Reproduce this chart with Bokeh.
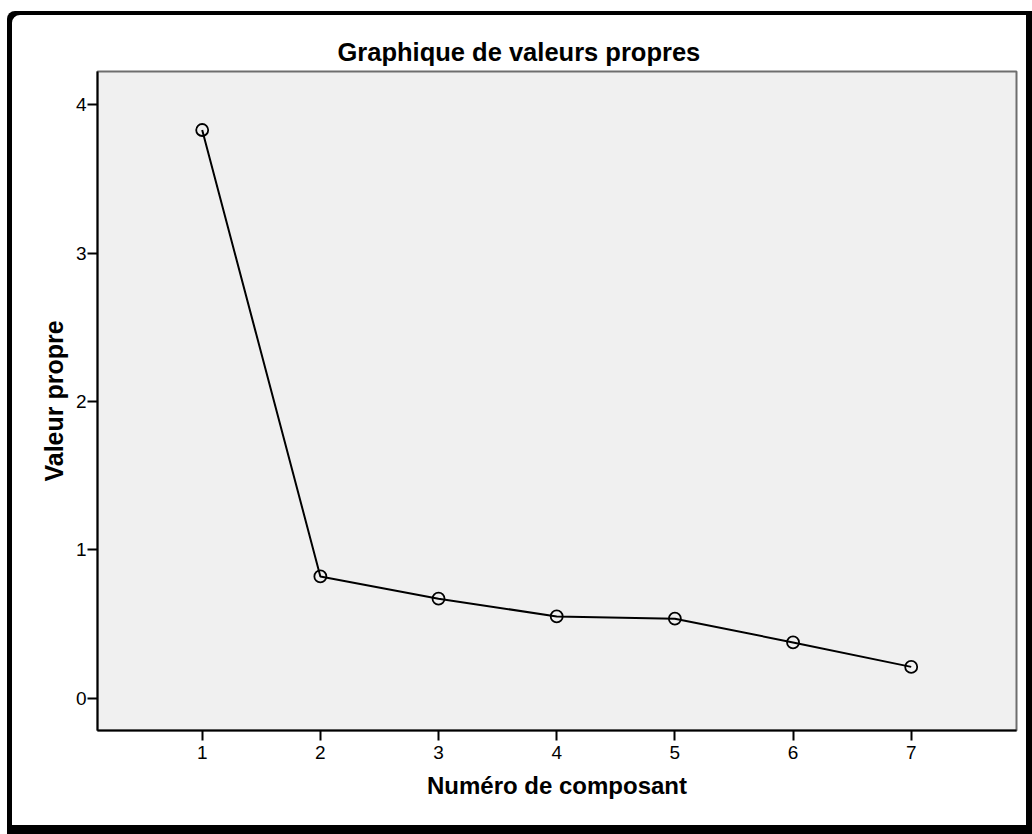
from bokeh.plotting import figure
from bokeh.models import Range1d, FixedTicker
from bokeh.embed import file_html
from bokeh.resources import INLINE

# ---- data ----
components = [1, 2, 3, 4, 5, 6, 7]
eigenvalues = [3.83, 0.82, 0.67, 0.55, 0.535, 0.375, 0.21]
x_ticks = [1, 2, 3, 4, 5, 6, 7]
y_ticks = [0, 1, 2, 3, 4]
title_text = "Graphique de valeurs propres"
x_label = "Numéro de composant"
y_label = "Valeur propre"

FONT = "Liberation Sans"

p = figure(width=1025, height=823, output_backend="svg", toolbar_location=None,
           x_range=Range1d(0.114, 7.891), y_range=Range1d(-0.219, 4.2245),
           min_border_left=90, min_border_right=16, min_border_top=60, min_border_bottom=104,
           title=title_text)

# outer black frame with drop shadow (CSS on the figure element)
p.styles = {
    "margin-left": "7px",
    "margin-top": "11px",
    "background-color": "white",
    "border-top-left-radius": "8px",
    "box-shadow": "inset 5px 4px 0 0 black, inset -6px -9px 0 0 black",
}
p.border_fill_alpha = 0
p.background_fill_color = "#f0f0f0"
p.outline_line_color = "#6e6e6e"
p.outline_line_width = 2
p.grid.visible = False

p.title.align = "left"
p.title.offset = 240
p.title.text_font = FONT
p.title.text_font_size = "25.5px"
p.title.text_font_style = "bold"
p.title.text_color = "black"
p.title.standoff = 12

for ax in (p.xaxis[0], p.yaxis[0]):
    ax.axis_line_color = "black"
    ax.axis_line_width = 2
    ax.major_tick_line_color = "black"
    ax.major_tick_line_width = 2
    ax.major_tick_out = 10
    ax.major_tick_in = 0
    ax.minor_tick_line_color = None
    ax.major_label_text_font = FONT
    ax.major_label_text_font_size = "19px"
    ax.major_label_text_color = "black"
    ax.axis_label_text_font = FONT
    ax.axis_label_text_font_style = "bold"
    ax.axis_label_text_color = "black"

p.xaxis.axis_label_text_font_size = "24px"
p.yaxis.axis_label_text_font_size = "25px"
p.xaxis.ticker = FixedTicker(ticks=x_ticks)
p.yaxis.ticker = FixedTicker(ticks=y_ticks)
p.xaxis.axis_label = x_label
p.yaxis.axis_label = y_label
p.xaxis.major_label_standoff = 5
p.yaxis.major_label_standoff = 1
p.xaxis.axis_label_standoff = 10
p.yaxis.axis_label_standoff = 5

p.line(components, eigenvalues, line_color="black", line_width=2)
p.scatter(components, eigenvalues, marker="circle", size=12, fill_color=None,
          line_color="black", line_width=1.8)

open("out.html", "w").write(file_html(p, INLINE))
